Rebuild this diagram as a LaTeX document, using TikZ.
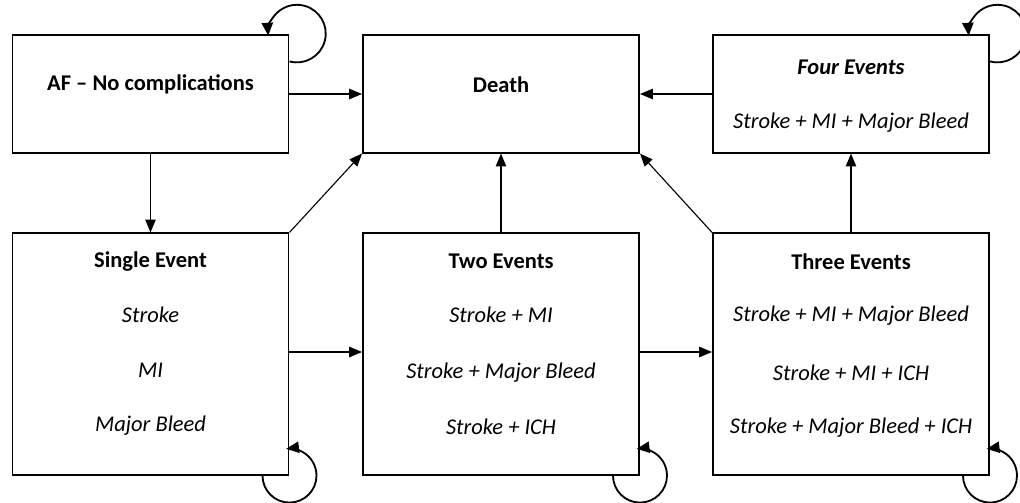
\documentclass[tikz,border=0pt]{standalone}
\usepackage{fontspec}
\setmainfont{Carlito}
\usetikzlibrary{arrows.meta}

\tikzset{
  statebox/.style={draw, line width=1.4pt, fill=white, minimum width=6.9cm},
  shortbox/.style={statebox, minimum height=2.93cm},
  tallbox/.style={statebox, minimum height=6.03cm},
  txt/.style={font=\fontsize{16}{19}\selectfont\itshape},
  head/.style={font=\fontsize{16}{19}\selectfont\bfseries},
  line/.style={draw, line width=0.8pt, -{Triangle[length=0.32cm, width=0.26cm]}},
  selfloop/.style={line width=1.3pt, -{Triangle[length=0.32cm, width=0.28cm]}}
}

\begin{document}
\begin{tikzpicture}
    \useasboundingbox (0, 0) rectangle (25.5, 12.55);

    % top row
    \node[shortbox] (af) at (3.7625, 10.2) {};
    \node[shortbox] (death) at (12.525, 10.2) {};
    \node[shortbox] (four) at (21.275, 10.2) {};

    % bottom row
    \node[tallbox] (single) at (3.7625, 3.7) {};
    \node[tallbox] (two) at (12.525, 3.7) {};
    \node[tallbox] (three) at (21.275, 3.7) {};

    \node[head] (aftitle) at ([yshift=-1.25cm]af.north) {AF – No complications};
    \node[head] (deathtitle) at ([yshift=-1.25cm]death.north) {Death};
    \node[head, font=\fontsize{16}{19}\selectfont\bfseries\itshape] (fourtitle) at ([yshift=-0.825cm]four.north) {Four Events};
    \node[txt] (fourA) at ([yshift=-2.2cm]four.north) {Stroke + MI + Major Bleed};

    \node[head] (singletitle) at ([yshift=-0.72cm]single.north) {Single Event};
    \node[txt] (singleA) at ([yshift=-2.07cm]single.north) {Stroke};
    \node[txt] (singleB) at ([yshift=-3.45cm]single.north) {MI};
    \node[txt] (singleC) at ([yshift=-4.83cm]single.north) {Major Bleed};

    \node[head] (twotitle) at ([yshift=-0.72cm]two.north) {Two Events};
    \node[txt] (twoA) at ([yshift=-2.07cm]two.north) {Stroke + MI};
    \node[txt] (twoB) at ([yshift=-3.5cm]two.north) {Stroke + Major Bleed};
    \node[txt] (twoC) at ([yshift=-4.87cm]two.north) {Stroke + ICH};

    \node[head] (threetitle) at ([yshift=-0.72cm]three.north) {Three Events};
    \node[txt] (threeA) at ([yshift=-2.07cm]three.north) {Stroke + MI + Major Bleed};
    \node[txt] (threeB) at ([yshift=-3.5cm]three.north) {Stroke + MI + ICH};
    \node[txt] (threeC) at ([yshift=-4.87cm]three.north) {Stroke + Major Bleed + ICH};

    % transitions
    \path[line] (af.east) -- (death.west);
    \path[line] (four.west) -- (death.east);
    \path[line] (af.south) -- (single.north);
    \path[line] (single.north east) -- (death.south west);
    \path[line] (two.north) -- (death.south);
    \path[line] (three.north west) -- (death.south east);
    \path[line] (three.north) -- (four.south);
    \path[line] ([yshift=0.05cm]single.east) -- ([yshift=0.05cm]two.west);
    \path[line] ([yshift=0.05cm]two.east) -- ([yshift=0.05cm]three.west);

    % staying in the same state
    \draw[selfloop] ([yshift=-0.675cm]af.north east) arc[start angle=-105, end angle=184, radius=0.72cm];
    \draw[selfloop] ([yshift=-0.675cm]four.north east) arc[start angle=-105, end angle=184, radius=0.72cm];
    \draw[selfloop] ([xshift=-0.675cm]single.south east) arc[start angle=180, end angle=457, radius=0.675cm];
    \draw[selfloop] ([xshift=-0.675cm]two.south east) arc[start angle=180, end angle=457, radius=0.675cm];
    \draw[selfloop] ([xshift=-0.675cm]three.south east) arc[start angle=180, end angle=457, radius=0.675cm];
  \end{tikzpicture}
\end{document}
